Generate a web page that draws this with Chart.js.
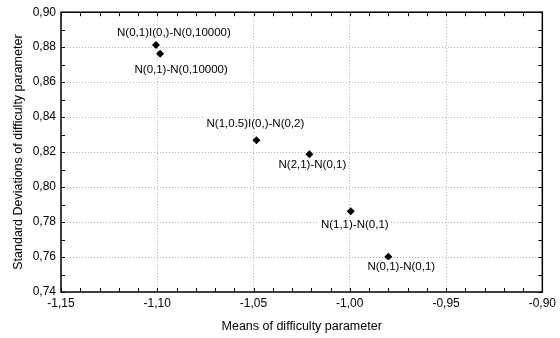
<!DOCTYPE html>
<html>
<head>
<meta charset="utf-8">
<script src="https://cdn.jsdelivr.net/npm/chart.js@4/dist/chart.umd.min.js"></script>
<style>
  html, body { margin: 0; padding: 0; background: #fff; }
  #wrap { width: 560px; height: 338px; }
</style>
</head>
<body>
<div id="wrap"><canvas id="chartScatter"></canvas></div>
<script>
// datos
var pointNames = [
  'N(0,1)I(0,)-N(0,10000)',
  'N(0,1)-N(0,10000)',
  'N(1,0.5)I(0,)-N(0,2)',
  'N(2,1)-N(0,1)',
  'N(1,1)-N(0,1)',
  'N(0,1)-N(0,1)'
];
var meanValues = [-1.1007, -1.0985, -1.0485, -1.0210, -0.9995, -0.9800];
var sdValues = [0.8812, 0.8763, 0.8268, 0.8188, 0.7862, 0.7601];

// desplazamiento de cada etiqueta respecto al punto (px)
var labelShift = [[18, -12], [21, 16], [-1, -16], [3, 11], [4, 14], [13, 10]];

var fontFam = '"Liberation Sans", Arial, sans-serif';

var fmt = (v) => v.toFixed(2).replace('.', ',');

var points = [];
for (let i = 0; i < meanValues.length; i++)
  points.push({ x: meanValues[i], y: sdValues[i] });

// marco + marcas hacia adentro en los cuatro lados
var frameTicks = {
  id: 'frameTicks',
  afterDraw: function (chart) {
    let c = chart.ctx;
    let a = chart.chartArea;
    let sx = chart.scales.x;
    let sy = chart.scales.y;
    c.save();
    c.strokeStyle = '#000';
    c.lineWidth = 1;
    c.beginPath();
    for (let v = -1.15; v <= -0.899; v += 0.01) {
      let px = Math.round(sx.getPixelForValue(v)) + 0.5;
      c.moveTo(px, a.bottom); c.lineTo(px, a.bottom - 4);
      c.moveTo(px, a.top); c.lineTo(px, a.top + 4);
    }
    for (let v = 0.74; v <= 0.9001; v += 0.01) {
      let py = Math.round(sy.getPixelForValue(v)) + 0.5;
      c.moveTo(a.left, py); c.lineTo(a.left + 4, py);
      c.moveTo(a.right, py); c.lineTo(a.right - 4, py);
    }
    c.stroke();
    c.lineWidth = 1.5;
    c.strokeRect(a.left, a.top, a.right - a.left, a.bottom - a.top);
    c.restore();
  }
};

// etiquetas con fondo blanco
var pointLabels = {
  id: 'pointLabels',
  afterDatasetsDraw: function (chart) {
    let c = chart.ctx;
    let meta = chart.getDatasetMeta(0);
    c.save();
    c.font = '11.5px ' + fontFam;
    c.textAlign = 'center';
    c.textBaseline = 'middle';
    meta.data.forEach(function (el, i) {
      let tx = el.x + labelShift[i][0];
      let ty = el.y + labelShift[i][1];
      let w = c.measureText(pointNames[i]).width;
      c.fillStyle = '#fff';
      c.fillRect(tx - w / 2 - 2, ty - 7, w + 4, 14);
      c.fillStyle = '#000';
      c.fillText(pointNames[i], tx, ty);
    });
    c.restore();
  }
};

var ctx = document.getElementById('chartScatter').getContext('2d');
var chartScatter = new Chart(ctx, {
  type: 'scatter',
  plugins: [pointLabels, frameTicks],
  data: {
    datasets: [
      {
        data: points,
        pointStyle: 'rectRot',
        pointRadius: 4,
        pointHoverRadius: 4,
        backgroundColor: '#000',
        borderColor: '#000',
        borderWidth: 0,
      },
    ],
  },
  options: {
    responsive: true,
    maintainAspectRatio: false,
    animation: false,
    events: [],
    layout: {
      padding: { top: 11, right: 14, left: 0, bottom: 0 },
    },
    plugins: {
      legend: { display: false },
      tooltip: { enabled: false },
    },
    scales: {
      x: {
        type: 'linear',
        min: -1.15,
        max: -0.9,
        afterFit: (s) => { s.height = 46; },
        ticks: {
          stepSize: 0.05,
          padding: 4,
          maxRotation: 0,
          color: '#000',
          font: { family: fontFam, size: 12 },
          callback: (v) => fmt(v),
        },
        grid: {
          color: '#b4b4b4',
          drawTicks: false,
        },
        border: { display: false, dash: [1, 2] },
        title: {
          display: true,
          text: 'Means of difficulty parameter',
          color: '#000',
          font: { family: fontFam, size: 12.5 },
          padding: { top: 0, bottom: 4 },
        },
      },
      y: {
        type: 'linear',
        min: 0.74,
        max: 0.9,
        afterFit: (s) => { s.width = 61; },
        ticks: {
          stepSize: 0.02,
          padding: 5,
          color: '#000',
          font: { family: fontFam, size: 12 },
          callback: (v) => fmt(v),
        },
        grid: {
          color: '#b4b4b4',
          drawTicks: false,
        },
        border: { display: false, dash: [1, 2] },
        title: {
          display: true,
          text: 'Standard Deviations of difficulty parameter',
          color: '#000',
          font: { family: fontFam, size: 12.5 },
          padding: { top: 11, bottom: 0 },
        },
      },
    },
  },
});
</script>
</body>
</html>
